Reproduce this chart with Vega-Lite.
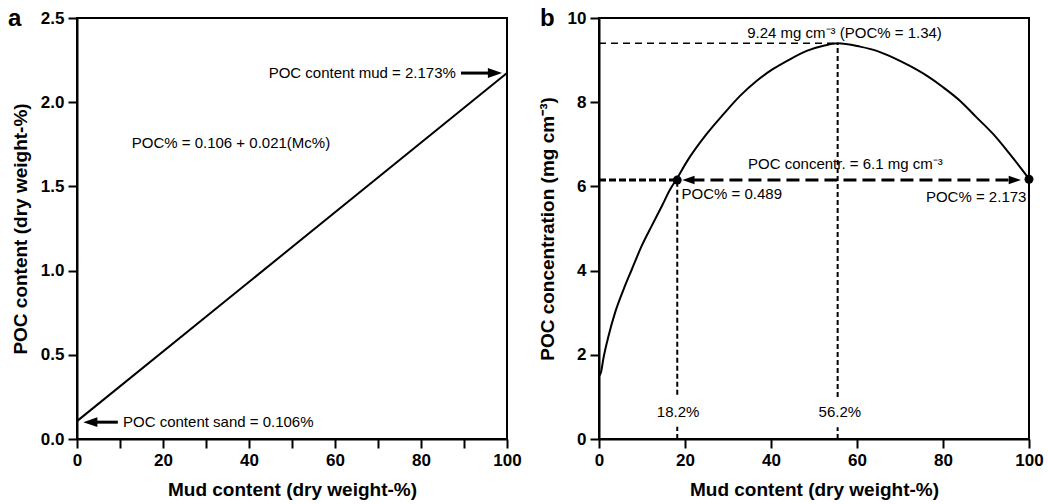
{
  "$schema": "https://vega.github.io/schema/vega-lite/v6.json",
  "background": "white",
  "padding": {"left": 7, "top": 6, "right": 5, "bottom": 0},
  "spacing": 14,
  "datasets": {
    "lineA": [{"x": 0, "y": 0.106}, {"x": 100, "y": 2.173}],
    "shaftsA": [{"x": 89.3, "x2": 96.5, "y": 2.173}, {"x": 3.5, "x2": 9.5, "y": 0.1}],
    "headsA": [{"x": 97.2, "y": 2.173, "dir": "right"}, {"x": 3.1, "y": 0.1, "dir": "left"}],
    "textRightA": [{"x": 88.1, "y": 2.173, "label": "POC content mud = 2.173%"}],
    "textLeftA": [{"x": 10.7, "y": 0.1, "label": "POC content sand = 0.106%"}],
    "textCenterA": [{"x": 35.8, "y": 1.76, "label": "POC% = 0.106 + 0.021(Mc%)"}],
    "curveB": [
      {"x": 0, "y": 1.5}, {"x": 0.5, "y": 1.6}, {"x": 1, "y": 1.9}, {"x": 2.2, "y": 2.44},
      {"x": 3.7, "y": 2.99}, {"x": 5.7, "y": 3.55}, {"x": 7.6, "y": 4.02}, {"x": 9.9, "y": 4.58},
      {"x": 12.2, "y": 5.05}, {"x": 14.6, "y": 5.53}, {"x": 16.5, "y": 5.92}, {"x": 18.2, "y": 6.2},
      {"x": 20.5, "y": 6.6}, {"x": 25, "y": 7.24}, {"x": 28.9, "y": 7.71}, {"x": 32.8, "y": 8.15},
      {"x": 36.7, "y": 8.51}, {"x": 40.5, "y": 8.79}, {"x": 44.4, "y": 9.02}, {"x": 48.3, "y": 9.22},
      {"x": 52.2, "y": 9.34}, {"x": 55.5, "y": 9.4}, {"x": 60.7, "y": 9.32}, {"x": 64.6, "y": 9.22},
      {"x": 68.4, "y": 9.06}, {"x": 72.3, "y": 8.86}, {"x": 76.2, "y": 8.63}, {"x": 80.1, "y": 8.35},
      {"x": 84, "y": 8.03}, {"x": 87.8, "y": 7.64}, {"x": 91.7, "y": 7.24}, {"x": 95.6, "y": 6.76},
      {"x": 100, "y": 6.18}
    ],
    "peakH": [{"x": 0, "x2": 55.5, "y": 9.4}],
    "vertB": [
      {"x": 55.5, "y": 1.0, "y2": 9.4}, {"x": 55.5, "y": 0, "y2": 0.28},
      {"x": 18.2, "y": 1.05, "y2": 6.15}, {"x": 18.2, "y": 0, "y2": 0.29}
    ],
    "leftH": [{"x": 0, "x2": 18.2, "y": 6.15}],
    "arrowShaft": [{"x": 21.5, "x2": 96, "y": 6.15}],
    "headsB": [{"x": 20.8, "y": 6.15, "dir": "left"}, {"x": 96.7, "y": 6.15, "dir": "right"}],
    "dotsB": [{"x": 18.2, "y": 6.15}, {"x": 100, "y": 6.17}],
    "textCenterB": [
      {"x": 57.1, "y": 9.64, "label": "9.24 mg cm⁻³ (POC% = 1.34)"},
      {"x": 57.3, "y": 6.53, "label": "POC concentr. = 6.1 mg cm⁻³"},
      {"x": 18.4, "y": 0.63, "label": "18.2%"},
      {"x": 56.0, "y": 0.63, "label": "56.2%"}
    ],
    "textLeftB": [{"x": 19.2, "y": 5.81, "label": "POC% = 0.489"}],
    "textRightB": [{"x": 99.4, "y": 5.74, "label": "POC% = 2.173"}]
  },
  "hconcat": [
    {
      "width": 430,
      "height": 421,
      "title": {"text": "a", "anchor": "start", "frame": "group", "fontSize": 24, "fontWeight": "bold", "font": "Liberation Sans", "color": "black", "dx": -69, "offset": -22},
      "encoding": {
        "x": {"field": "x", "type": "quantitative", "scale": {"domain": [0, 100], "nice": false, "zero": false},
              "axis": {"values": [0, 10, 20, 30, 40, 50, 60, 70, 80, 90, 100], "labelExpr": "datum.value % 20 === 0 ? datum.label : ''", "title": "Mud content (dry weight-%)"}},
        "y": {"field": "y", "type": "quantitative", "scale": {"domain": [0, 2.5], "nice": false, "zero": false},
              "axis": {"values": [0, 0.5, 1, 1.5, 2, 2.5], "format": ".1f", "title": "POC content (dry weight-%)"}}
      },
      "layer": [
        {"data": {"name": "lineA"}, "mark": {"type": "line", "color": "black", "strokeWidth": 2}},
        {"data": {"name": "shaftsA"}, "mark": {"type": "rule", "color": "black", "strokeWidth": 3}, "encoding": {"x2": {"field": "x2"}}},
        {"data": {"name": "headsA"}, "mark": {"type": "point", "filled": true, "color": "black", "opacity": 1, "size": 200},
         "encoding": {"shape": {"field": "dir", "type": "nominal", "scale": {"domain": ["left", "right"], "range": ["M1,-0.7L-1,0L1,0.7Z", "M-1,-0.7L1,0L-1,0.7Z"]}, "legend": null}}},
        {"data": {"name": "textRightA"}, "mark": {"type": "text", "align": "right", "baseline": "middle", "font": "Liberation Sans", "fontSize": 15, "color": "black"}, "encoding": {"text": {"field": "label"}}},
        {"data": {"name": "textLeftA"}, "mark": {"type": "text", "align": "left", "baseline": "middle", "font": "Liberation Sans", "fontSize": 15, "color": "black"}, "encoding": {"text": {"field": "label"}}},
        {"data": {"name": "textCenterA"}, "mark": {"type": "text", "align": "center", "baseline": "middle", "font": "Liberation Sans", "fontSize": 15, "color": "black"}, "encoding": {"text": {"field": "label"}}}
      ]
    },
    {
      "width": 430,
      "height": 421,
      "title": {"text": "b", "anchor": "start", "frame": "group", "fontSize": 24, "fontWeight": "bold", "font": "Liberation Sans", "color": "black", "dx": -59, "offset": -22},
      "encoding": {
        "x": {"field": "x", "type": "quantitative", "scale": {"domain": [0, 100], "nice": false, "zero": false},
              "axis": {"values": [0, 20, 40, 60, 80, 100], "title": "Mud content (dry weight-%)"}},
        "y": {"field": "y", "type": "quantitative", "scale": {"domain": [0, 10], "nice": false, "zero": false},
              "axis": {"values": [0, 2, 4, 6, 8, 10], "title": "POC concentration (mg cm⁻³)"}}
      },
      "layer": [
        {"data": {"name": "curveB"}, "mark": {"type": "line", "color": "black", "strokeWidth": 2, "interpolate": "monotone"}},
        {"data": {"name": "peakH"}, "mark": {"type": "rule", "color": "black", "strokeWidth": 1.5, "strokeDash": [7, 5]}, "encoding": {"x2": {"field": "x2"}}},
        {"data": {"name": "vertB"}, "mark": {"type": "rule", "color": "black", "strokeWidth": 2, "strokeDash": [5, 3]}, "encoding": {"y2": {"field": "y2"}}},
        {"data": {"name": "leftH"}, "mark": {"type": "rule", "color": "black", "strokeWidth": 3, "strokeDash": [7, 3]}, "encoding": {"x2": {"field": "x2"}}},
        {"data": {"name": "arrowShaft"}, "mark": {"type": "rule", "color": "black", "strokeWidth": 3, "strokeDash": [13, 6]}, "encoding": {"x2": {"field": "x2"}}},
        {"data": {"name": "headsB"}, "mark": {"type": "point", "filled": true, "color": "black", "opacity": 1, "size": 150},
         "encoding": {"shape": {"field": "dir", "type": "nominal", "scale": {"domain": ["left", "right"], "range": ["M1,-0.8L-1,0L1,0.8Z", "M-1,-0.8L1,0L-1,0.8Z"]}, "legend": null}}},
        {"data": {"name": "dotsB"}, "mark": {"type": "point", "filled": true, "color": "black", "opacity": 1, "size": 80, "shape": "circle"}},
        {"data": {"name": "textCenterB"}, "mark": {"type": "text", "align": "center", "baseline": "middle", "font": "Liberation Sans", "fontSize": 15, "color": "black"}, "encoding": {"text": {"field": "label"}}},
        {"data": {"name": "textLeftB"}, "mark": {"type": "text", "align": "left", "baseline": "middle", "font": "Liberation Sans", "fontSize": 15, "color": "black"}, "encoding": {"text": {"field": "label"}}},
        {"data": {"name": "textRightB"}, "mark": {"type": "text", "align": "right", "baseline": "middle", "font": "Liberation Sans", "fontSize": 15, "color": "black"}, "encoding": {"text": {"field": "label"}}}
      ]
    }
  ],
  "config": {
    "view": {"stroke": "black", "strokeWidth": 2},
    "axis": {
      "domainColor": "black", "domainWidth": 2, "tickColor": "black", "tickWidth": 2, "tickSize": 9,
      "labelFont": "Liberation Sans", "labelFontWeight": "bold", "labelFontSize": 17, "labelColor": "black", "labelPadding": 4,
      "labelFlush": false, "labelOverlap": false,
      "titleFont": "Liberation Sans", "titleFontWeight": "bold", "titleFontSize": 19, "titleColor": "black",
      "grid": false
    },
    "axisY": {"titlePadding": 10},
    "axisX": {"titlePadding": 12}
  }
}
